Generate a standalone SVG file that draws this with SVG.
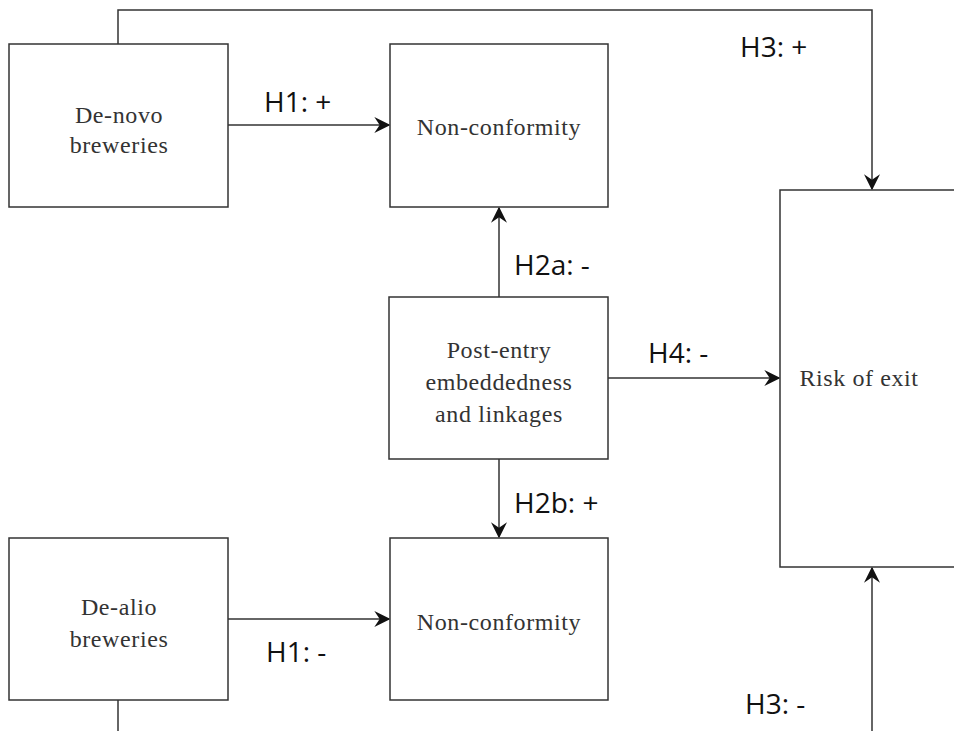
<svg xmlns="http://www.w3.org/2000/svg" width="954" height="731" viewBox="0 0 954 731">
<style>
.box{fill:#fff;stroke:#333;stroke-width:1.5}
.t{font-family:"Liberation Serif",serif;font-size:24px;letter-spacing:0.6px;fill:#333;text-anchor:middle}
.l{font-family:"Open Sans","Liberation Sans",sans-serif;font-size:28px;fill:#111}
.c{fill:none;stroke:#333;stroke-width:1.5}
</style>
<defs>
<marker id="ah" viewBox="0 0 12 12" refX="11" refY="6" markerWidth="16" markerHeight="16" markerUnits="userSpaceOnUse" orient="auto">
<path d="M0,0 L12,6 L0,12 L4,6 Z" fill="#111"/>
</marker>
</defs>
<rect width="954" height="731" fill="#fff"/>
<g id="connectors">
<path class="c" d="M118,44 V10 H872 V189" marker-end="url(#ah)"/>
<path class="c" d="M228,125 H389" marker-end="url(#ah)"/>
<path class="c" d="M499,297 V208" marker-end="url(#ah)"/>
<path class="c" d="M499,459 V537" marker-end="url(#ah)"/>
<path class="c" d="M608,378 H779" marker-end="url(#ah)"/>
<path class="c" d="M228,619 H389" marker-end="url(#ah)"/>
<path class="c" d="M118,700 V731"/>
<path class="c" d="M872,731 V568" marker-end="url(#ah)"/>
</g>
<g id="labels">
<text class="l" x="264" y="112">H1: +</text>
<text class="l" x="740" y="57">H3: +</text>
<text class="l" x="514" y="275">H2a: -</text>
<text class="l" x="648" y="363">H4: -</text>
<text class="l" x="514" y="513">H2b: +</text>
<text class="l" x="266" y="662">H1: -</text>
<text class="l" x="745" y="714">H3: -</text>
</g>
<g id="denovo"><rect class="box" x="9" y="44" width="219" height="163"/><text class="t" x="119" y="123">De-novo</text><text class="t" x="119" y="153">breweries</text></g>
<g id="nonconf1"><rect class="box" x="390" y="44" width="218" height="163"/><text class="t" x="499" y="135">Non-conformity</text></g>
<g id="postentry"><rect class="box" x="389" y="297" width="219" height="162"/><text class="t" x="499" y="358">Post-entry</text><text class="t" x="499" y="390">embeddedness</text><text class="t" x="499" y="422">and linkages</text></g>
<g id="risk"><rect class="box" x="780" y="190" width="180" height="377"/><text class="t" x="859" y="386">Risk of exit</text></g>
<g id="dealio"><rect class="box" x="9" y="538" width="219" height="162"/><text class="t" x="119" y="615">De-alio</text><text class="t" x="119" y="647">breweries</text></g>
<g id="nonconf2"><rect class="box" x="390" y="538" width="218" height="162"/><text class="t" x="499" y="630">Non-conformity</text></g>
</svg>
